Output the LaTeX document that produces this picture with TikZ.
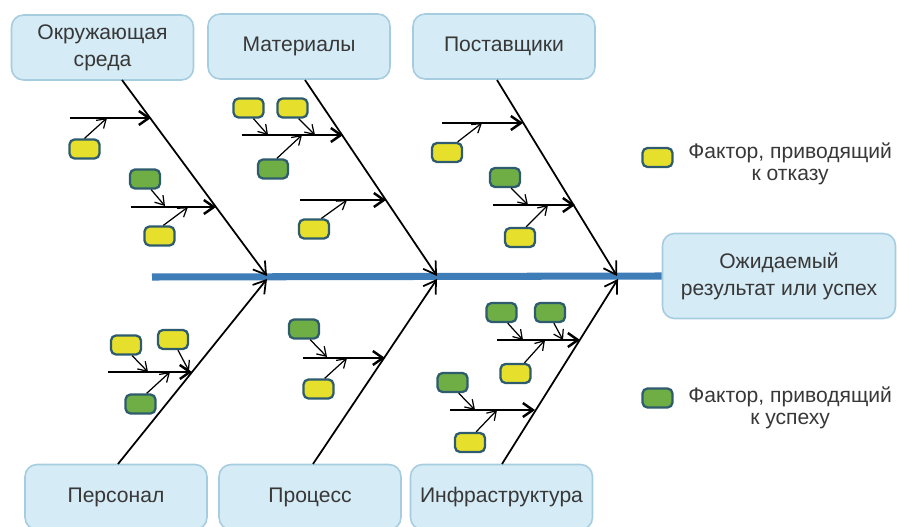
\documentclass[tikz,border=0pt]{standalone}
\usepackage{fontspec}
\setmainfont{Liberation Sans}
\usetikzlibrary{arrows.meta}
\definecolor{boxfill}{HTML}{D5EBF5}
\definecolor{boxline}{HTML}{A6CCE0}
\definecolor{spinecol}{HTML}{3F7DB8}
\definecolor{edgecol}{HTML}{2E5C6E}
\definecolor{yel}{HTML}{E6E02C}
\definecolor{grn}{HTML}{6FAE45}
\definecolor{txt}{HTML}{383838}
\tikzset{%
  catnode/.style = {shape=rectangle, rounded corners=2.4mm,%
                    draw=boxline, fill=boxfill, line width=0.9pt,%
                    align=center, text=txt, font=\fontsize{12}{15.3}\selectfont,%
                    minimum width=3.64cm, minimum height=1.3cm},%
  result/.style   = {catnode, minimum width=4.66cm, minimum height=1.7cm},%
  factor/.style   = {shape=rectangle, rounded corners=1mm, draw=edgecol,%
                     line width=1.3pt, inner sep=0pt,%
                     minimum width=0.6cm, minimum height=0.38cm},%
  failbox/.style  = {factor, fill=yel},%
  succbox/.style  = {factor, fill=grn},%
  legend/.style   = {align=center, text=txt, inner sep=0pt,%
                     font=\fontsize{12}{12.6}\selectfont},%
  bone/.style     = {line width=1pt, -{Straight Barb[length=2.4mm,width=3mm]}},%
  branch/.style   = {line width=1.4pt, -{Straight Barb[length=2mm,width=2.8mm]}},%
  twig/.style     = {line width=0.7pt, -{Straight Barb[length=1.7mm,width=2.2mm]}}%
}
\begin{document}
\begin{tikzpicture}[x=0.02cm,y=-0.02cm]
	\useasboundingbox (0,0) rectangle (897,527);
	% categories
	\node [catnode] (env) at (102.5,47.5) {Окружающая\\среда};
	\node [catnode] (mat) at (299,46.5) {Материалы};
	\node [catnode] (sup) at (504,46.5) {Поставщики};
	\node [catnode] (pers) at (116,497) {Персонал};
	\node [catnode] (proc) at (310,497) {Процесс};
	\node [catnode] (infra) at (501.5,497) {Инфраструктура};
	\node [result] (res) at (779,276) {Ожидаемый\\результат или успех};
	% spine
	\coordinate (tail) at (152,277);
	\draw [line width=4pt, spinecol] (tail) -- (res.west);
	\coordinate (h1) at (267,276);
	\coordinate (h2) at (437,276);
	\coordinate (h3) at (617,276);
	\coordinate (l1) at (267,279);
	\coordinate (l2) at (437,279);
	\coordinate (l3) at (618,279);
	\coordinate (t1) at (122,80);
	\coordinate (t2) at (305,80);
	\coordinate (t3) at (497,80);
	\coordinate (b1) at (118,464);
	\coordinate (b2) at (313,464);
	\coordinate (b3) at (502,464);
	\draw [bone] (t1) -- (h1);
	\draw [bone] (t2) -- (h2);
	\draw [bone] (t3) -- (h3);
	\draw [bone] (b1) -- (l1);
	\draw [bone] (b2) -- (l2);
	\draw [bone] (b3) -- (l3);
	% environment
	\draw [branch] (70,118) coordinate (a1) -- (151,118) coordinate (a1e);
	\draw [branch] (131,207) coordinate (a2) -- (216,207) coordinate (a2e);
	\node [failbox] (ea) at (84.5,149) {};
	\node [succbox] (eb) at (145,179) {};
	\node [failbox] (ec) at (159.5,236) {};
	\draw [twig] (ea.north) -- (107,118);
	\draw [twig] (eb.-60) -- (165,206);
	\draw [twig] (ec.70) -- (188,207);
	% materials
	\draw [branch] (242,135) coordinate (m1) -- (343,135) coordinate (m1e);
	\draw [branch] (300,200) coordinate (m2) -- (386,200) coordinate (m2e);
	\node [failbox] (ma) at (248.5,108) {};
	\node [failbox] (mb) at (292.5,108) {};
	\node [succbox] (mc) at (273,169) {};
	\node [failbox] (md) at (314,229) {};
	\draw [twig] (ma.-65) -- (268,135);
	\draw [twig] (mb.-60) -- (315,135);
	\draw [twig] (mc.70) -- (302,135);
	\draw [twig] (md.55) -- (347,200);
	% suppliers
	\draw [branch] (442,123) coordinate (s1) -- (523,123) coordinate (s1e);
	\draw [branch] (493,205) coordinate (s2) -- (575,205) coordinate (s2e);
	\node [failbox] (sa) at (447,152.5) {};
	\node [succbox] (sb) at (505,177.5) {};
	\node [failbox] (sc) at (520,237.5) {};
	\draw [twig] (sa.45) -- (482,123);
	\draw [twig] (sb.-60) -- (528,205);
	\draw [twig] (sc.60) -- (548,205);
	% personnel
	\draw [branch] (108,372) coordinate (p1) -- (192,372) coordinate (p1e);
	\node [failbox] (pa) at (126,345) {};
	\node [failbox] (pb) at (173,339.5) {};
	\node [succbox] (pc) at (140.5,404) {};
	\draw [twig] (pa.-60) -- (148,372);
	\draw [twig] (pb.-65) -- (189,371);
	\draw [twig] (pc.60) -- (170,372);
	% process
	\draw [branch] (303,358) coordinate (r1) -- (385,358) coordinate (r1e);
	\node [succbox] (ra) at (304,329) {};
	\node [failbox] (rb) at (318.5,389) {};
	\draw [twig] (ra.-60) -- (327,357);
	\draw [twig] (rb.60) -- (347,358);
	% infrastructure
	\draw [branch] (497,340) coordinate (f1) -- (580,340) coordinate (f1e);
	\draw [branch] (450,410) coordinate (f2) -- (535,410) coordinate (f2e);
	\node [succbox] (fa) at (501.5,312.5) {};
	\node [succbox] (fb) at (550,312.5) {};
	\node [failbox] (fc) at (515.5,373.5) {};
	\node [succbox] (fd) at (452.5,382.5) {};
	\node [failbox] (fe) at (470,442.5) {};
	\draw [twig] (fa.-60) -- (523,340);
	\draw [twig] (fb.-70) -- (563,340);
	\draw [twig] (fc.50) -- (545,340);
	\draw [twig] (fd.-60) -- (475,410);
	\draw [twig] (fe.60) -- (497,410);
	% legend
	\node [failbox] (keyfail) at (657.5,157.5) {};
	\node [legend, anchor=west] (keyfailtxt) at (688,164) {Фактор, приводящий\\к отказу};
	\node [succbox] (keysucc) at (657.5,398) {};
	\node [legend, anchor=west] (keysucctxt) at (688,408) {Фактор, приводящий\\к успеху};
\end{tikzpicture}
\end{document}
